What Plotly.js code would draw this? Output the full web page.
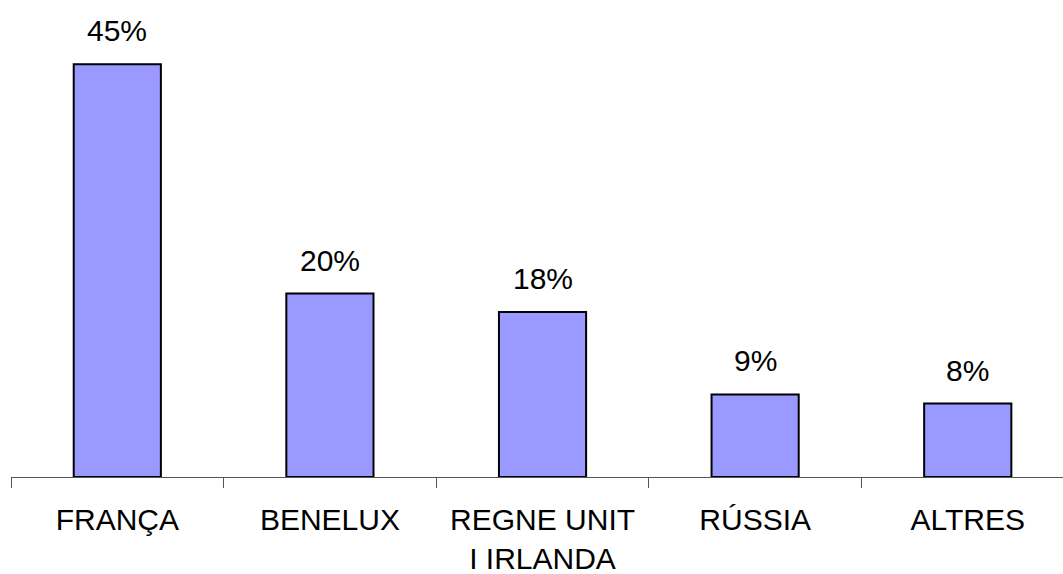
<!DOCTYPE html>
<html>
<head>
<meta charset="utf-8">
<script src="https://cdn.plot.ly/plotly-3.0.1.min.js"></script>
<style>
  html, body { margin: 0; padding: 0; overflow: hidden; background: #fff; }
  #chart { width: 1063px; height: 574px; }
</style>
</head>
<body>
<div id="chart"></div>
<script>
// Share by market
const categories = ['FRANÇA', 'BENELUX', 'REGNE UNIT<br>I IRLANDA', 'RÚSSIA', 'ALTRES'];
const shares = [45, 20, 18, 9, 8];
const shareLabels = ['45%', '20%', '18%', '9%', '8%'];

const font = { family: 'Liberation Sans, Arial, sans-serif', size: 30, color: '#000' };

const bars = {
  type: 'bar',
  x: categories,
  y: shares,
  marker: { color: '#9999FF', line: { color: '#000', width: 2 } },
  hoverinfo: 'skip'
};

// value labels above each bar
const labels = categories.map((c, i) => ({
  x: c,
  y: shares[i],
  text: shareLabels[i],
  showarrow: false,
  xanchor: 'center',
  yanchor: 'bottom',
  yshift: 15,
  font: font
}));

const layout = {
  width: 1063,
  height: 574,
  margin: { l: 11, r: 0, t: 0, b: 97 },
  paper_bgcolor: '#fff',
  plot_bgcolor: '#fff',
  showlegend: false,
  bargap: 0.59,
  font: font,
  xaxis: {
    type: 'category',
    range: [-0.5, 4.448],
    showline: true,
    linecolor: '#555',
    linewidth: 1,
    ticks: 'outside',
    tickson: 'boundaries',
    ticklen: 10,
    tickcolor: '#555',
    tickwidth: 1,
    ticklabelstandoff: 16,
    showgrid: false,
    zeroline: false,
    tickfont: font
  },
  yaxis: {
    range: [0, 52],
    visible: false,
    showgrid: false,
    zeroline: false
  },
  annotations: labels
};

Plotly.newPlot('chart', [bars], layout, { staticPlot: true, displayModeBar: false });
</script>
</body>
</html>
